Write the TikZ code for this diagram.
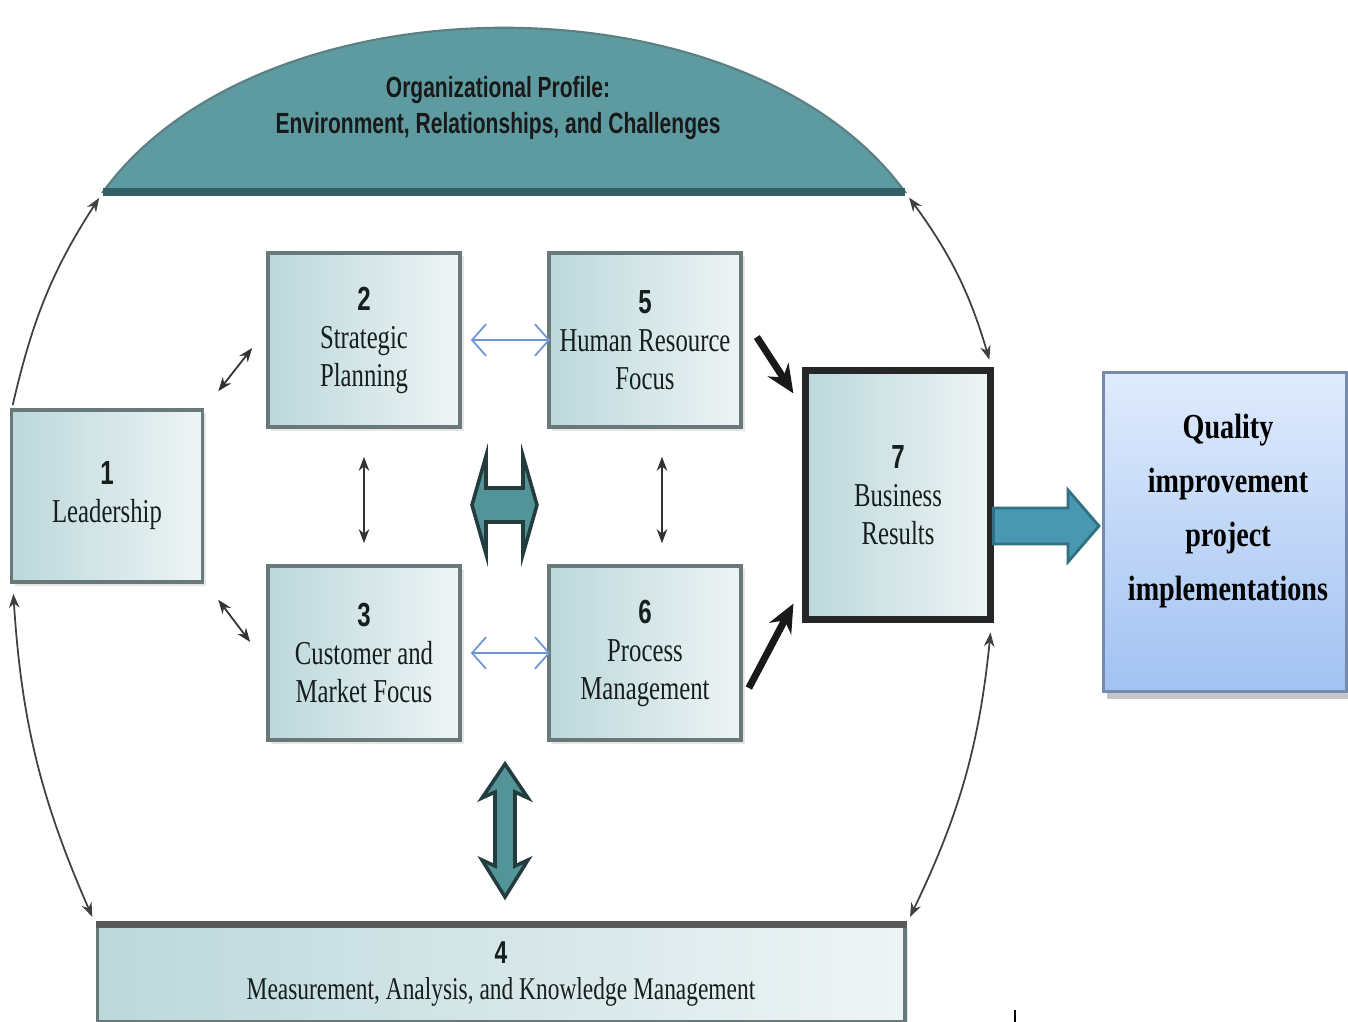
\documentclass[tikz,border=0pt]{standalone}
\usepackage{fontspec}
\usepackage{tikz}
\usetikzlibrary{arrows.meta, positioning, calc, shadows}

\newfontfamily\boxfont[FakeStretch=0.74]{Liberation Serif}
\newfontfamily\capfont[FakeStretch=0.72]{Liberation Sans}
\newfontfamily\qfont[FakeStretch=0.8]{Liberation Serif}
\newcommand{\stepno}[1]{{\capfont\bfseries #1}}

\definecolor{capteal}{RGB}{94,155,160}
\definecolor{capedge}{RGB}{50,95,100}
\definecolor{boxdark}{RGB}{188,216,219}
\definecolor{boxlight}{RGB}{238,244,245}
\definecolor{boxedge}{RGB}{105,120,120}
\definecolor{boxtext}{RGB}{22,30,30}
\definecolor{fatteal}{RGB}{82,148,152}
\definecolor{fatedge}{RGB}{35,60,62}
\definecolor{outteal}{RGB}{72,152,178}
\definecolor{outedge}{RGB}{50,112,132}
\definecolor{linkblue}{RGB}{110,150,215}
\definecolor{qtop}{RGB}{224,235,252}
\definecolor{qbottom}{RGB}{162,194,242}
\definecolor{qedge}{RGB}{118,138,175}

\begin{document}
\begin{tikzpicture}[x=0.01cm, y=-0.01cm,
    box/.style={draw=boxedge, line width=1pt, left color=boxdark, right color=boxlight,
        minimum width=1.92cm, minimum height=1.74cm, inner sep=0pt, align=center,
        text=boxtext, font=\boxfont\fontsize{9.5}{10.8}\selectfont,
        drop shadow={shadow xshift=1pt, shadow yshift=-1pt, opacity=0.2}},
    duo/.style={{Stealth[length=4pt,width=3pt]}-{Stealth[length=4pt,width=3pt]}, line width=0.5pt, black!80},
    pair/.style={{Straight Barb[length=4pt,width=9pt]}-{Straight Barb[length=4pt,width=9pt]}, line width=0.5pt, linkblue},
    feed/.style={-{Stealth[length=8pt,width=7pt]}, line width=2pt, black!90},
    ring/.style={line width=0.5pt, black!75},
    fat/.style={fill=fatteal, draw=fatedge, line width=1pt, line join=miter}
]
    \useasboundingbox (0,0) rectangle (1348,1022);

    % organizational profile cap
    \coordinate (capL) at (103,192);
    \coordinate (capR) at (905,192);
    \path[fill=capteal, draw=capedge!80, line width=0.6pt] (capL) .. controls (262,-27) and (746,-27) .. (capR) -- cycle;
    \draw[capedge, line width=2pt] (capL) -- (capR);
    \node[align=center, text=black!90, font=\capfont\bfseries\fontsize{8.3}{10.2}\selectfont] (profile) at (498,108)
        {Organizational Profile:\\Environment, Relationships, and Challenges};

    % category boxes
    \node[box, minimum width=1.91cm, minimum height=1.72cm] (lead) at (107,496) {\stepno{1}\\Leadership};
    \node[box] (strat) at (364,340) {\stepno{2}\\Strategic\\Planning};
    \node[box] (hr) at (645,340) {\stepno{5}\\Human Resource\\Focus};
    \node[box] (cust) at (364,653) {\stepno{3}\\Customer and\\Market Focus};
    \node[box] (proc) at (645,653) {\stepno{6}\\Process\\Management};
    \node[box, draw=black!85, line width=2pt, minimum width=1.84cm, minimum height=2.48cm] (bus) at (898,495)
        {\stepno{7}\\Business\\Results};
    \node[box, minimum width=8.07cm, minimum height=0.96cm, drop shadow={opacity=0},
        font=\boxfont\fontsize{9}{10.4}\selectfont] (meas) at (501,974)
        {\stepno{4}\\Measurement, Analysis, and Knowledge Management};
    \draw[black!65, line width=2pt] (meas.north west) -- (meas.north east);

    % outcome box
    \node[draw=qedge, line width=0.8pt, top color=qtop, bottom color=qbottom,
        minimum width=2.43cm, minimum height=3.19cm,
        drop shadow={shadow xshift=1pt, shadow yshift=-2pt, opacity=0.45}] (qbox) at (1225,532) {};
    \node[align=center, font=\qfont\bfseries\fontsize{10}{15.3}\selectfont] (qtext) at (1228,511)
        {Quality\\improvement\\project\\implementations};

    % links between categories
    \draw[duo] ([shift={(14,-17)}]lead.north east) -- ([shift={(-14,8)}]strat.west);
    \draw[duo] ([shift={(14,16)}]lead.south east) -- ([shift={(-16,-11)}]cust.west);
    \draw[duo] ([yshift=-0.28cm]strat.south) -- ([yshift=0.21cm]cust.north);
    \draw[duo] ([shift={(17,28)}]hr.south) -- ([shift={(17,-21)}]proc.north);
    \draw[pair] ([xshift=0.09cm]strat.east) -- ([xshift=0.03cm]hr.west);
    \draw[pair] ([xshift=0.09cm]cust.east) -- ([xshift=0.03cm]proc.west);
    \draw[feed] ([shift={(14,-3)}]hr.east) -- ([shift={(-9,26)}]bus.north west);
    \draw[feed] ([shift={(6,35)}]proc.east) -- ([shift={(-9,-19)}]bus.south west);

    % outer ring
    \draw[ring, -{Stealth[length=4pt,width=3pt]}, shorten >=0.07cm] ([shift={(3,-3)}]lead.north west) to[bend left=10] (capL);
    \draw[ring, {Stealth[length=4pt,width=3pt]}-{Stealth[length=4pt,width=3pt]}, shorten <=0.1cm, shorten >=0.08cm]
        ([xshift=0.03cm]lead.south west) to[bend right=10] (meas.north west);
    \draw[ring, {Stealth[length=4pt,width=3pt]}-{Stealth[length=4pt,width=3pt]}, shorten <=0.07cm, shorten >=0.08cm]
        (capR) to[bend left=10] ([xshift=-0.02cm]bus.north east);
    \draw[ring, {Stealth[length=4pt,width=3pt]}-{Stealth[length=4pt,width=3pt]}, shorten <=0.1cm, shorten >=0.08cm]
        ([xshift=-0.02cm]bus.south east) to[bend left=10] (meas.north east);

    % block arrows
    \draw[fat] (472,505) -- (486,456) -- (486,488) -- (523,488) -- (523,456) -- (537,505)
        -- (523,554) -- (523,522) -- (486,522) -- (486,554) -- cycle;
    \draw[fat] (505,764) -- (528,798) -- (515,792) -- (515,866) -- (528,860) -- (505,897)
        -- (482,860) -- (495,866) -- (495,792) -- (482,798) -- cycle;
    \draw[fill=outteal, draw=outedge, line width=0.8pt] (bus.east |- 0,508) -- (1068,508) -- (1068,490) -- (1099,526)
        -- (1068,562) -- (1068,544) -- (bus.east |- 0,544) -- cycle;

    \draw[black, line width=0.8pt] (1015,1010) -- (1015,1022);
\end{tikzpicture}
\end{document}
